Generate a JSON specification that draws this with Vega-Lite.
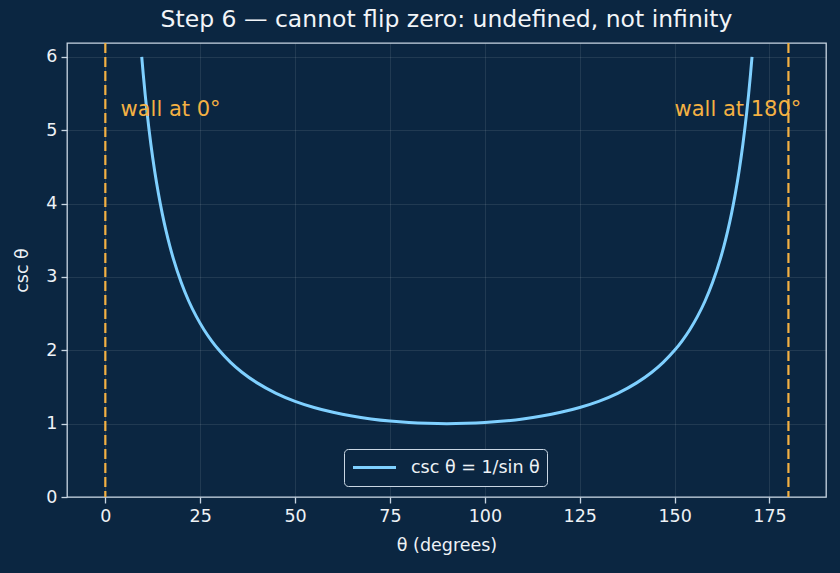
{
  "$schema": "https://vega.github.io/schema/vega-lite/v6.json",
  "width": 759,
  "height": 454,
  "autosize": {"type": "none"},
  "padding": {"left": 67, "top": 43, "right": 14, "bottom": 76},
  "background": "#0b2641",
  "title": {
    "text": "Step 6 — cannot flip zero: undefined, not infinity",
    "font": "DejaVu Sans",
    "fontSize": 23.5,
    "fontWeight": "normal",
    "color": "#f2f5f8",
    "anchor": "middle",
    "offset": 10
  },
  "config": {
    "view": {"fill": "#0b2641", "stroke": "#c9d6e3", "strokeWidth": 1.3},
    "axis": {
      "domain": false,
      "labelFont": "DejaVu Sans",
      "labelFontSize": 17.5,
      "labelColor": "#eef2f6",
      "tickColor": "#c9d6e3",
      "tickSize": 6,
      "tickWidth": 1.3,
      "labelPadding": 4,
      "gridColor": "#ffffff",
      "gridOpacity": 0.12,
      "gridWidth": 0.8,
      "titleFont": "DejaVu Sans",
      "titleFontSize": 17.5,
      "titleFontWeight": "normal",
      "titleColor": "#eef2f6"
    }
  },
  "layer": [
    {
      "data": {"values": [{"x": 0}, {"x": 180}]},
      "mark": {"type": "rule", "color": "#f4b143", "strokeWidth": 2.2, "strokeDash": [10, 4]},
      "encoding": {
        "x": {"field": "x", "type": "quantitative", "scale": {"domain": [-10.1, 189.9], "nice": false, "zero": false}}
      }
    },
    {
      "data": {"values": [
        {"theta": 9.594, "csc": 6.0},
        {"theta": 10, "csc": 5.759},
        {"theta": 10.5, "csc": 5.487},
        {"theta": 11, "csc": 5.241},
        {"theta": 12, "csc": 4.810},
        {"theta": 13, "csc": 4.445},
        {"theta": 14, "csc": 4.134},
        {"theta": 15, "csc": 3.864},
        {"theta": 16, "csc": 3.628},
        {"theta": 17, "csc": 3.420},
        {"theta": 18, "csc": 3.236},
        {"theta": 20, "csc": 2.924},
        {"theta": 22, "csc": 2.669},
        {"theta": 24, "csc": 2.459},
        {"theta": 26, "csc": 2.281},
        {"theta": 28, "csc": 2.130},
        {"theta": 30, "csc": 2.000},
        {"theta": 33, "csc": 1.836},
        {"theta": 36, "csc": 1.701},
        {"theta": 40, "csc": 1.556},
        {"theta": 45, "csc": 1.414},
        {"theta": 50, "csc": 1.305},
        {"theta": 55, "csc": 1.221},
        {"theta": 60, "csc": 1.155},
        {"theta": 65, "csc": 1.103},
        {"theta": 70, "csc": 1.064},
        {"theta": 75, "csc": 1.035},
        {"theta": 80, "csc": 1.015},
        {"theta": 85, "csc": 1.004},
        {"theta": 90, "csc": 1.000},
        {"theta": 95, "csc": 1.004},
        {"theta": 100, "csc": 1.015},
        {"theta": 105, "csc": 1.035},
        {"theta": 110, "csc": 1.064},
        {"theta": 115, "csc": 1.103},
        {"theta": 120, "csc": 1.155},
        {"theta": 125, "csc": 1.221},
        {"theta": 130, "csc": 1.305},
        {"theta": 135, "csc": 1.414},
        {"theta": 140, "csc": 1.556},
        {"theta": 144, "csc": 1.701},
        {"theta": 147, "csc": 1.836},
        {"theta": 150, "csc": 2.000},
        {"theta": 152, "csc": 2.130},
        {"theta": 154, "csc": 2.281},
        {"theta": 156, "csc": 2.459},
        {"theta": 158, "csc": 2.669},
        {"theta": 160, "csc": 2.924},
        {"theta": 162, "csc": 3.236},
        {"theta": 163, "csc": 3.420},
        {"theta": 164, "csc": 3.628},
        {"theta": 165, "csc": 3.864},
        {"theta": 166, "csc": 4.134},
        {"theta": 167, "csc": 4.445},
        {"theta": 168, "csc": 4.810},
        {"theta": 169, "csc": 5.241},
        {"theta": 169.5, "csc": 5.487},
        {"theta": 170, "csc": 5.759},
        {"theta": 170.406, "csc": 6.0}
      ]},
      "mark": {"type": "line", "strokeWidth": 3, "interpolate": "monotone"},
      "encoding": {
        "x": {"field": "theta", "type": "quantitative", "title": "θ (degrees)",
              "axis": {"values": [0, 25, 50, 75, 100, 125, 150, 175], "titlePadding": 12}},
        "y": {"field": "csc", "type": "quantitative", "title": "csc θ",
              "scale": {"domain": [0, 6.19], "nice": false, "zero": false},
              "axis": {"values": [0, 1, 2, 3, 4, 5, 6], "format": "d", "titlePadding": 14}},
        "color": {
          "datum": "csc θ = 1/sin θ",
          "type": "nominal",
          "scale": {"range": ["#7fd0ff"]},
          "legend": {
            "title": null,
            "orient": "none",
            "legendX": 277,
            "legendY": 406,
            "fillColor": "#0b2641",
            "strokeColor": "#c9d6e3",
            "cornerRadius": 4,
            "padding": 7,
            "clipHeight": 23,
            "symbolType": "stroke",
            "symbolStrokeWidth": 3,
            "symbolSize": 1850,
            "labelFont": "DejaVu Sans",
            "labelFontSize": 17.5,
            "labelColor": "#eef2f6",
            "labelOffset": 13
          }
        }
      }
    },
    {
      "data": {"values": [
        {"x": 4, "y": 5.2, "label": "wall at 0°"},
        {"x": 150, "y": 5.2, "label": "wall at 180°"}
      ]},
      "mark": {"type": "text", "align": "left", "baseline": "alphabetic", "font": "DejaVu Sans", "fontSize": 21, "color": "#f4b143"},
      "encoding": {
        "x": {"field": "x", "type": "quantitative"},
        "y": {"field": "y", "type": "quantitative"},
        "text": {"field": "label"}
      }
    }
  ]
}
